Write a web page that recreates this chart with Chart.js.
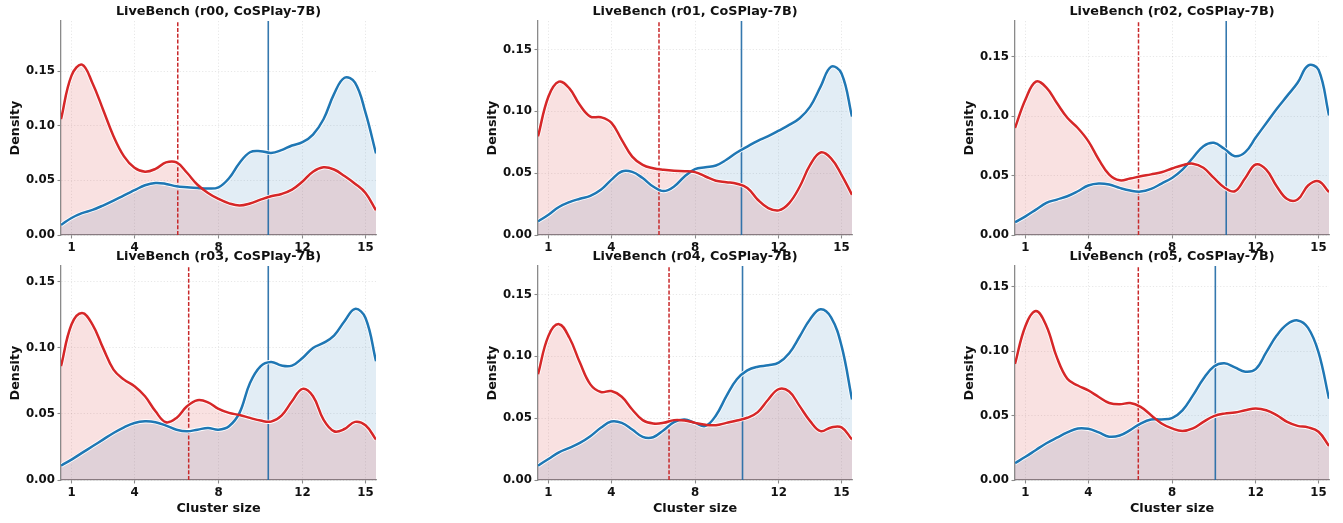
<!DOCTYPE html>
<html>
<head>
<meta charset="utf-8">
<title>LiveBench cluster size densities</title>
<script src="https://cdn.jsdelivr.net/npm/chart.js@4.4.1/dist/chart.umd.min.js"></script>
<style>
  html, body { margin: 0; padding: 0; background: #fff; width: 1343px; height: 523px; overflow: hidden; }
  canvas { position: absolute; }
</style>
</head>
<body>
<script>
// Evaluation grid for the density curves (cluster size)
const xGrid = [0.5, 1, 1.5, 2, 2.5, 3, 3.5, 4, 4.5, 5, 5.5, 6, 6.5, 7, 7.5, 8,
               8.5, 9, 9.5, 10, 10.5, 11, 11.5, 12, 12.5, 13, 13.5, 14, 14.5, 15, 15.5];

const runs = ['r00', 'r01', 'r02', 'r03', 'r04', 'r05'];
const model = 'CoSPlay-7B';

// Red series densities per run
const redR00 = [0.106, 0.146, 0.156, 0.139, 0.115, 0.0905, 0.072, 0.0615, 0.058, 0.0605, 0.0665, 0.0665, 0.057, 0.046, 0.0385, 0.033,
                0.029, 0.027, 0.0288, 0.0324, 0.0355, 0.0376, 0.0416, 0.049, 0.058, 0.062, 0.060, 0.054, 0.047, 0.0385, 0.0226];
const redR01 = [0.0796, 0.112, 0.124, 0.1185, 0.105, 0.0957, 0.0952, 0.0909, 0.0769, 0.0634, 0.0567, 0.054, 0.0527, 0.0519, 0.0516, 0.0508,
                0.0473, 0.0438, 0.0427, 0.0414, 0.038, 0.0285, 0.0218, 0.0199, 0.0258, 0.039, 0.0567, 0.0667, 0.062, 0.0487, 0.0325];
const redR02 = [0.090, 0.114, 0.129, 0.124, 0.111, 0.0986, 0.090, 0.079, 0.0635, 0.0508, 0.046, 0.0475, 0.0494, 0.051, 0.0528, 0.0559,
                0.0587, 0.060, 0.0565, 0.048, 0.040, 0.0368, 0.048, 0.0593, 0.055, 0.041, 0.0303, 0.0298, 0.0416, 0.0452, 0.036];
const redR03 = [0.0861, 0.1177, 0.1265, 0.1177, 0.100, 0.0836, 0.076, 0.071, 0.0634, 0.052, 0.0437, 0.047, 0.0558, 0.0604, 0.0588, 0.0538,
                0.0508, 0.0492, 0.047, 0.045, 0.0442, 0.0487, 0.0596, 0.069, 0.0634, 0.0457, 0.0369, 0.0386, 0.044, 0.0414, 0.0306];
const redR04 = [0.0854, 0.1165, 0.126, 0.115, 0.0949, 0.0773, 0.0711, 0.0719, 0.0673, 0.057, 0.0484, 0.0457, 0.0462, 0.0484, 0.0481, 0.0462,
                0.0446, 0.0443, 0.0462, 0.0481, 0.0503, 0.0549, 0.0651, 0.0735, 0.0715, 0.0597, 0.0476, 0.0395, 0.0425, 0.0425, 0.0327];
const redR05 = [0.090, 0.1195, 0.131, 0.1195, 0.0951, 0.0785, 0.0733, 0.0695, 0.0644, 0.0597, 0.0587, 0.0597, 0.0567, 0.0503, 0.0438, 0.040,
                0.038, 0.040, 0.0451, 0.0495, 0.0515, 0.0523, 0.0541, 0.0554, 0.0541, 0.0503, 0.0451, 0.042, 0.0408, 0.0374, 0.0264];

// Blue series densities per run
const blueR00 = [0.0092, 0.0156, 0.020, 0.023, 0.027, 0.0315, 0.0364, 0.041, 0.0456, 0.0477, 0.0468, 0.0446, 0.0437, 0.0431, 0.0425, 0.0437,
                 0.052, 0.066, 0.0758, 0.0768, 0.0752, 0.0777, 0.082, 0.085, 0.092, 0.106, 0.129, 0.144, 0.1395, 0.112, 0.0746];
const blueR01 = [0.011, 0.0164, 0.0226, 0.0266, 0.0293, 0.0317, 0.0366, 0.0446, 0.0513, 0.051, 0.046, 0.0392, 0.0355, 0.0392, 0.0473, 0.0532,
                 0.0548, 0.0562, 0.0608, 0.0667, 0.0715, 0.0761, 0.080, 0.0844, 0.089, 0.0944, 0.1038, 0.120, 0.136, 0.1306, 0.0957];
const blueR02 = [0.0107, 0.0157, 0.0213, 0.027, 0.0298, 0.0326, 0.0368, 0.0416, 0.0433, 0.0424, 0.0396, 0.0374, 0.0365, 0.0388, 0.0433, 0.048,
                 0.055, 0.065, 0.0747, 0.0775, 0.0725, 0.0663, 0.0697, 0.082, 0.094, 0.106, 0.117, 0.128, 0.1425, 0.139, 0.1006];
const blueR03 = [0.0109, 0.0154, 0.0205, 0.0255, 0.0306, 0.0356, 0.0399, 0.0432, 0.0444, 0.0437, 0.0412, 0.0381, 0.0369, 0.0381, 0.0394, 0.0381,
                 0.0407, 0.0508, 0.0735, 0.0861, 0.0894, 0.0866, 0.0866, 0.0924, 0.100, 0.1038, 0.1093, 0.1202, 0.1295, 0.1227, 0.0899];
const blueR04 = [0.0116, 0.017, 0.0224, 0.026, 0.030, 0.0354, 0.0422, 0.0473, 0.0462, 0.0408, 0.0349, 0.0346, 0.0403, 0.0468, 0.0489, 0.0462,
                 0.0437, 0.0522, 0.0678, 0.0814, 0.0886, 0.0916, 0.0927, 0.0949, 0.1024, 0.116, 0.130, 0.138, 0.1314, 0.1084, 0.0651];
const blueR05 = [0.0131, 0.018, 0.0233, 0.0285, 0.0328, 0.0369, 0.040, 0.0397, 0.0369, 0.0336, 0.0345, 0.0387, 0.0438, 0.047, 0.047, 0.048,
                 0.054, 0.0656, 0.0785, 0.088, 0.0905, 0.0874, 0.084, 0.086, 0.099, 0.112, 0.1208, 0.1238, 0.118, 0.099, 0.063];

const redSeries = [redR00, redR01, redR02, redR03, redR04, redR05];
const blueSeries = [blueR00, blueR01, blueR02, blueR03, blueR04, blueR05];

// Mean cluster size of each series (vertical reference lines)
const redMean = [6.06, 6.28, 6.40, 6.58, 6.76, 6.39];
const blueMean = [10.37, 10.22, 10.59, 10.37, 10.27, 10.07];

// Axis ranges and ticks
const yMax = [0.196, 0.173, 0.180, 0.162, 0.173, 0.166];
const yTicks = [0, 0.05, 0.10, 0.15];
const xTicks = [1, 4, 8, 12, 15];
const xMin = 0.5, xMax = 15.5;

// Page layout of the 2 x 3 grid (plot-area edges in page pixels)
const colLeft = [61, 538, 1015];
const colRight = [376, 852, 1329];
const rowTop = [21, 266];
const rowBottom = [235, 480];
const PAGE_H = 523;
// Equal side gutters keep the panel title centred over the plot area
const GUTTER = 61, GUTTER_T = 21;

const FONT = "'DejaVu Sans', 'Liberation Sans', sans-serif";
const TEXT = '#111111';
const SPINE = '#8a8a8a';
const RED = '#d62728', BLUE = '#1f77b4';

function pts(ys) { return ys.map((y, k) => ({ x: xGrid[k], y })); }

runs.forEach((run, i) => {
  const row = Math.floor(i / 3), col = i % 3;
  const L = colLeft[col], R = colRight[col], T = rowTop[row], B = rowBottom[row];
  const cw = (R - L) + 2 * GUTTER;
  const top = T - GUTTER_T;
  const ch = row === 0 ? 259 : PAGE_H - top;
  const plotH = B - T;

  const cv = document.createElement('canvas');
  cv.width = cw; cv.height = ch;
  cv.style.left = (L - GUTTER) + 'px';
  cv.style.top = top + 'px';
  cv.style.width = cw + 'px';
  cv.style.height = ch + 'px';
  document.body.appendChild(cv);

  const isBottom = row === 1;

  const curve = (ys, color, fillColor) => ({
    data: pts(ys), borderColor: color, borderWidth: 2.5,
    backgroundColor: fillColor, fill: fillColor ? 'origin' : false,
    pointRadius: 0, tension: 0.4
  });

  new Chart(cv.getContext('2d'), {
    type: 'line',
    data: {
      datasets: [
        Object.assign(curve(redSeries[i], RED, 'rgba(214,39,40,0.14)'), { order: 0 }),
        Object.assign(curve(blueSeries[i], BLUE, 'rgba(31,119,180,0.13)'), { order: 0 }),
        // thin white edge under each curve
        Object.assign(curve(redSeries[i], '#ffffff', null), { borderWidth: 4.2, order: 1 }),
        Object.assign(curve(blueSeries[i], '#ffffff', null), { borderWidth: 4.2, order: 1 }),
        {
          data: [{ x: redMean[i], y: 0 }, { x: redMean[i], y: yMax[i] }],
          borderColor: '#c8292b', borderWidth: 1.5, borderDash: [4, 1.8],
          pointRadius: 0, fill: false, order: 2
        },
        {
          data: [{ x: blueMean[i], y: 0 }, { x: blueMean[i], y: yMax[i] }],
          borderColor: 'rgba(31,105,165,0.9)', borderWidth: 1.6,
          pointRadius: 0, fill: false, order: 2
        }
      ]
    },
    options: {
      responsive: false,
      animation: false,
      devicePixelRatio: 1,
      layout: { padding: 0 },
      plugins: {
        legend: { display: false },
        tooltip: { enabled: false },
        filler: { drawTime: 'beforeDatasetsDraw' },
        title: {
          display: true,
          text: 'LiveBench (' + run + ', ' + model + ')',
          color: TEXT,
          font: { family: FONT, size: 12.8, weight: 'bold', lineHeight: 1.2 },
          padding: { top: 3.5, bottom: 2.14 }
        }
      },
      scales: {
        x: {
          type: 'linear', min: xMin, max: xMax,
          afterBuildTicks: s => { s.ticks = xTicks.map(v => ({ value: v })); },
          afterFit: s => { s.height = ch - GUTTER_T - plotH; },
          ticks: {
            color: TEXT, padding: 2.5, maxRotation: 0, autoSkip: false,
            font: { family: FONT, size: 11.8, weight: 'bold' },
            callback: v => String(v)
          },
          grid: {
            color: 'rgba(0,0,0,0.12)', lineWidth: 0.8,
            drawTicks: true, tickLength: 3.5, tickColor: SPINE, tickWidth: 1.1
          },
          border: { display: true, color: SPINE, width: 1.3, dash: [1.2, 2] },
          title: {
            display: isBottom, text: 'Cluster size', color: TEXT,
            font: { family: FONT, size: 12.8, weight: 'bold', lineHeight: 1.2 },
            padding: { top: 0, bottom: 7.0 }
          }
        },
        y: {
          type: 'linear', min: 0, max: yMax[i],
          afterBuildTicks: s => { s.ticks = yTicks.map(v => ({ value: v })); },
          afterFit: s => { s.width = GUTTER; },
          ticks: {
            color: TEXT, padding: 2.5,
            font: { family: FONT, size: 11.8, weight: 'bold' },
            callback: v => Number(v).toFixed(2)
          },
          grid: {
            color: 'rgba(0,0,0,0.12)', lineWidth: 0.8,
            drawTicks: true, tickLength: 3.5, tickColor: SPINE, tickWidth: 1.1
          },
          border: { display: true, color: SPINE, width: 1.3, dash: [1.2, 2] },
          title: {
            display: true, text: 'Density', color: TEXT,
            font: { family: FONT, size: 12.8, weight: 'bold', lineHeight: 1.2 },
            padding: { top: 7.6, bottom: 0 }
          }
        },
        // empty right-hand gutter, mirrors the left axis width
        gutter: {
          type: 'linear', position: 'right', min: 0, max: 1,
          afterFit: s => { s.width = GUTTER; },
          ticks: { display: false },
          grid: { display: false, drawOnChartArea: false, drawTicks: false },
          border: { display: false }
        }
      }
    }
  });
});
</script>
</body>
</html>
